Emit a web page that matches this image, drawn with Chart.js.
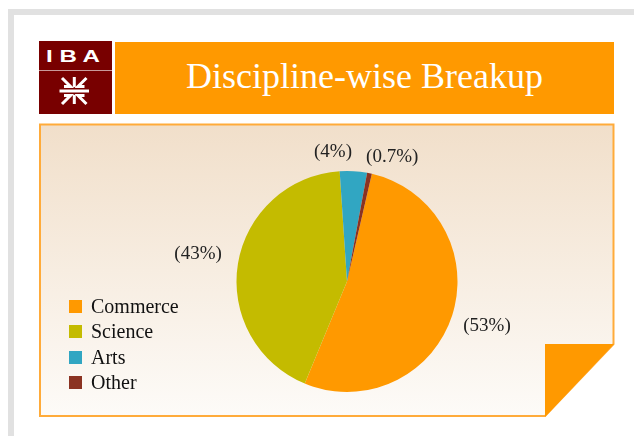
<!DOCTYPE html>
<html>
<head>
<meta charset="utf-8">
<script src="https://cdn.jsdelivr.net/npm/chart.js@4"></script>
<style>
  html, body { margin: 0; padding: 0; background: #fff; }
  #page { position: relative; width: 634px; height: 436px; overflow: hidden; }
  #frame { position: absolute; left: 8px; top: 9px; width: 640px; height: 440px;
           border-top: 6px solid #e1e1e1; border-left: 6px solid #e1e1e1; }
  #logo { position: absolute; left: 39px; top: 41px; }
  #title { position: absolute; left: 115px; top: 42px; width: 499px; height: 72px;
           background: #ff9900; color: #fff; text-align: center;
           font: 36px "Liberation Serif", serif; line-height: 68px; }
  #box { position: absolute; left: 0; top: 0; }
  #chartWrap { position: absolute; left: 40px; top: 124px; width: 574px; height: 292px; }
  #legend { position: absolute; left: 0; top: 0; }
  .row { position: absolute; left: 69px; height: 25px; display: flex; align-items: center;
         font: 20px "Liberation Serif", serif; color: #111; white-space: nowrap; }
  .sw { width: 13px; height: 13px; margin-right: 9px; }
</style>
</head>
<body>
<div id="page">
  <div id="frame"></div>

  <!-- logo -->
  <svg id="logo" width="73" height="73" viewBox="0 0 73 73">
    <rect x="0" y="0" width="73" height="73" fill="#780000"/>
    <line x1="0" y1="29.5" x2="73" y2="29.5" stroke="#c99a9a" stroke-width="1"/>
    <text x="34" y="21" text-anchor="middle" fill="#fff" font-family="Liberation Sans, sans-serif"
          font-weight="bold" font-size="17" textLength="54" lengthAdjust="spacingAndGlyphs">I B A</text>
    <g stroke="#fff" stroke-width="3" fill="none" stroke-linecap="butt" stroke-linejoin="miter">
      <line x1="20.5" y1="50" x2="50" y2="50"/>
      <line x1="35.3" y1="36" x2="35.3" y2="46"/>
      <line x1="35.3" y1="54" x2="35.3" y2="63"/>
      <polyline points="23,37 31.5,45.5 25,45.5"/>
      <polyline points="47.5,37 39,45.5 45.5,45.5"/>
      <polyline points="23,63 31.5,54.5 25,54.5"/>
      <polyline points="47.5,63 39,54.5 45.5,54.5"/>
    </g>
  </svg>

  <div id="title">Discipline-wise Breakup</div>

  <!-- content box with folded corner -->
  <svg id="box" width="634" height="436">
    <defs>
      <linearGradient id="bg" x1="0" y1="0" x2="0" y2="1">
        <stop offset="0" stop-color="#f1dfca"/>
        <stop offset="1" stop-color="#fdfbf8"/>
      </linearGradient>
    </defs>
    <polygon points="40,124.5 613.5,124.5 613.5,344 545,416 40,416" fill="url(#bg)"
             stroke="#ffab3a" stroke-width="2"/>
    <polygon points="545,344 614,344 545,417" fill="#ff9900"/>
  </svg>

  <div id="chartWrap"><canvas id="chart" width="574" height="292"></canvas></div>
  <div id="legend"></div>
</div>

<script>
// 分野別の内訳
const categories = ['Commerce', 'Science', 'Arts', 'Other'];
const shares = [53, 43, 4, 0.7];
const shareLabels = ['(53%)', '(43%)', '(4%)', '(0.7%)'];
const colors = ['#ff9900', '#c4bb00', '#31a6c2', '#8b3322'];

// ラベル位置の微調整（半径の倍率と角度のずれ）
const labelDist = [1.33, 1.37, 1.18, 1.20];
const labelShift = [0, 1, -9.5, 8.2];

// 凡例
const legend = document.getElementById('legend');
categories.forEach((name, i) => {
  const row = document.createElement('div');
  row.className = 'row';
  row.style.top = (294 + i * 25.3) + 'px';
  row.innerHTML = '<div class="sw" style="background:' + colors[i] + '"></div>' + name;
  legend.appendChild(row);
});

// 円の外側にパーセント表示
const outsideLabels = {
  id: 'outsideLabels',
  afterDatasetsDraw(chart) {
    const ctx = chart.ctx;
    const meta = chart.getDatasetMeta(0);
    ctx.save();
    ctx.font = '19px "Liberation Serif", serif';
    ctx.fillStyle = '#222';
    ctx.textAlign = 'center';
    ctx.textBaseline = 'middle';
    meta.data.forEach((arc, i) => {
      const p = arc.getProps(['x', 'y', 'startAngle', 'endAngle', 'outerRadius'], true);
      const mid = (p.startAngle + p.endAngle) / 2 + labelShift[i] * Math.PI / 180;
      const r = p.outerRadius * labelDist[i];
      ctx.fillText(shareLabels[i], p.x + Math.cos(mid) * r, p.y + Math.sin(mid) * r);
    });
    ctx.restore();
  }
};

const ctx = document.getElementById('chart').getContext('2d');
new Chart(ctx, {
  type: 'pie',
  data: {
    labels: categories,
    datasets: [{
      data: shares,
      backgroundColor: colors,
      borderWidth: 0
    }]
  },
  options: {
    responsive: false,
    animation: false,
    rotation: 13,
    layout: { padding: { left: 196.5, right: 156.5, top: 47, bottom: 24 } },
    plugins: {
      legend: { display: false },
      tooltip: { enabled: false }
    },
    events: []
  },
  plugins: [outsideLabels]
});
</script>
</body>
</html>
